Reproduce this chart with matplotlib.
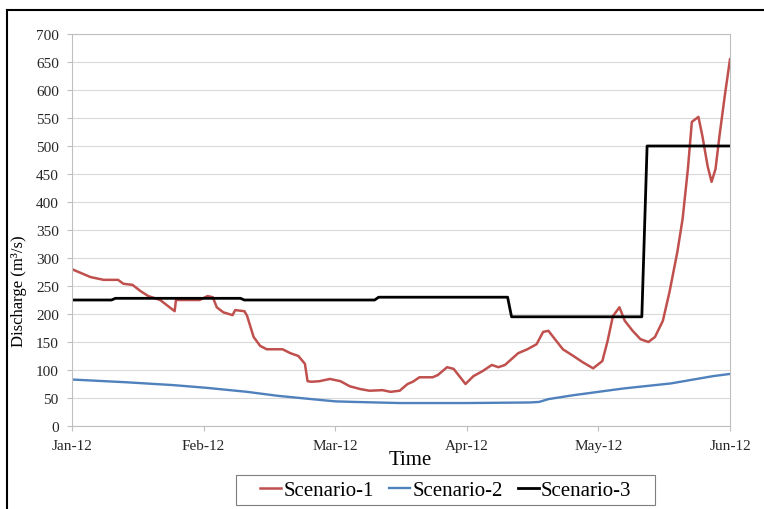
import matplotlib
matplotlib.use("Agg")
import matplotlib.pyplot as plt
from matplotlib.lines import Line2D
from matplotlib.patches import Rectangle

plt.rcParams['font.family'] = ['Liberation Serif', 'DejaVu Serif']

# x positions are in months from 1 Jan 2012 (0 = Jan-12, 5 = Jun-12)
month_labels = ['Jan-12', 'Feb-12', 'Mar-12', 'Apr-12', 'May-12', 'Jun-12']

s1_x = [0.00, 0.14, 0.24, 0.35, 0.39, 0.46, 0.52, 0.58, 0.67, 0.78, 0.79, 0.97,
        1.03, 1.07, 1.10, 1.15, 1.22, 1.24, 1.31, 1.33, 1.38, 1.43, 1.48, 1.60,
        1.66, 1.72, 1.77, 1.79, 1.82, 1.88, 1.96, 2.04, 2.11, 2.19, 2.26, 2.36,
        2.42, 2.49, 2.55, 2.59, 2.64, 2.74, 2.78, 2.85, 2.90, 2.93, 2.99, 3.05,
        3.12, 3.19, 3.24, 3.29, 3.39, 3.46, 3.53, 3.58, 3.62, 3.67, 3.73, 3.81,
        3.88, 3.96, 4.03, 4.07, 4.11, 4.16, 4.20, 4.26, 4.32, 4.38, 4.43, 4.49,
        4.54, 4.60, 4.64, 4.68, 4.71, 4.76, 4.79, 4.83, 4.86, 4.89, 4.92, 4.96,
        5.00]
s1_y = [280, 266, 261, 261, 254, 252, 241, 232, 225, 205, 225, 225,
        232, 230, 212, 203, 198, 207, 205, 197, 159, 143, 137, 137,
        130, 125, 111, 80, 79, 80, 84, 80, 71, 66, 63, 64,
        61, 63, 75, 79, 87, 87, 91, 105, 102, 93, 75, 89,
        98, 109, 105, 109, 130, 137, 146, 168, 170, 155, 137, 125,
        114, 103, 116, 152, 196, 212, 188, 170, 155, 150, 159, 188,
        239, 311, 370, 459, 543, 552, 518, 464, 436, 459, 518, 589,
        655]

s2_x = [0.00, 0.42, 0.77, 1.03, 1.33, 1.56, 1.82, 2.00, 2.14, 2.49, 3.00, 3.48,
        3.55, 3.62, 3.81, 4.00, 4.19, 4.55, 4.87, 5.00]
s2_y = [83, 78, 73, 68, 61, 54, 48, 44, 43, 41, 41, 42,
        43, 48, 55, 61, 67, 76, 89, 93]

s3_x = [0.00, 0.30, 0.33, 1.28, 1.31, 2.30, 2.33, 3.31, 3.34, 4.33, 4.37, 5.00]
s3_y = [225, 225, 228, 228, 225, 225, 230, 230, 195, 195, 500, 500]

W, H = 764, 510
fig = plt.figure(figsize=(W / 100, H / 100), dpi=100)
ax = fig.add_axes([72 / W, 1 - 427 / H, 658 / W, 392 / H])

ax.plot(s1_x, s1_y, color='#C0504D', lw=1.8, label='Scenario-1')
ax.plot(s2_x, s2_y, color='#4F81BD', lw=1.7, label='Scenario-2')
ax.plot(s3_x, s3_y, color='black', lw=2.0, label='Scenario-3')

ax.set_xlim(0, 5)
ax.set_ylim(0, 700)
ax.set_xticks(range(6))
ax.set_xticklabels(month_labels)
ax.set_yticks(range(0, 701, 50))

ax.grid(axis='y', color='#d9d9d9', lw=0.8)
ax.set_axisbelow(True)
for sp in ax.spines.values():
    sp.set_color('#bfbfbf')
    sp.set_linewidth(0.8)
ax.tick_params(colors='#bfbfbf', labelcolor='#262626', labelsize=11,
               length=3.5, width=0.8, pad=6)

ax.set_xlabel('Time', fontsize=15)
ax.xaxis.set_label_coords(0.514, -0.06)
ax.set_ylabel('Discharge (m³/s)', fontsize=12)
ax.yaxis.set_label_coords(-0.068, 0.347)

leg = fig.legend(loc='center', bbox_to_anchor=(446 / W, 1 - 491 / H), ncol=3,
                 fontsize=15, handlelength=1.0, handletextpad=0.1,
                 columnspacing=0.75, frameon=False, borderpad=0.2)

# legend box drawn separately, Excel-style padding
fig.add_artist(Rectangle((236 / W, 1 - 506 / H), 419 / W, 30 / H,
                         transform=fig.transFigure, fill=False,
                         edgecolor='#7f7f7f', lw=0.8))

# outer frame (top and left edges are visible in the source)
fig.add_artist(Line2D([7 / W, 1], [1 - 11 / H, 1 - 11 / H], color='black', lw=1.5))
fig.add_artist(Line2D([7 / W, 7 / W], [1 - 11 / H, 0], color='black', lw=1.5))

fig.savefig('out.png', dpi=100)
